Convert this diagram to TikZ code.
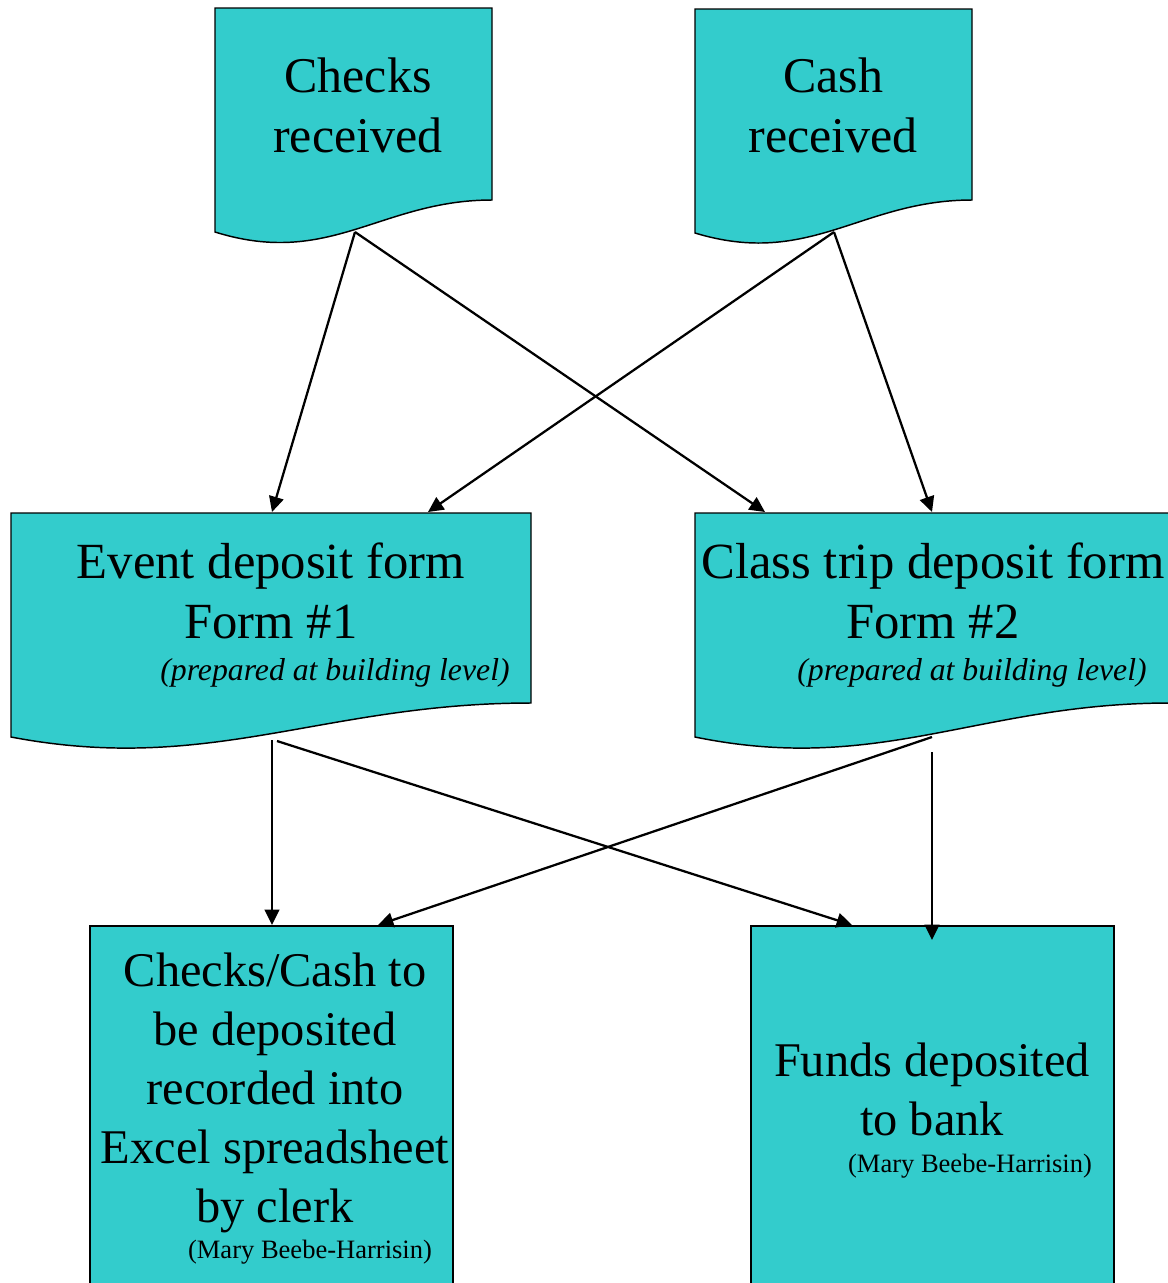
\documentclass[tikz,border=0pt]{standalone}
\usepackage{fontspec}
\setmainfont{Liberation Serif}
\usetikzlibrary{arrows.meta}
\definecolor{docfill}{HTML}{33CCCC}

\begin{document}
\begin{tikzpicture}
	[x=0.75pt,y=-0.75pt,>={Triangle[length=11.5pt,width=11pt]},
		docshape/.style={fill=docfill,draw=black,line width=1.1pt},
		flow/.style={->,line width=1.7pt},
		big/.style={font=\fontsize{36.3}{44.2}\selectfont,align=center,inner sep=0pt,anchor=base},
		bigger/.style={big,font=\fontsize{38}{44.5}\selectfont},
		note/.style={font=\fontsize{23.8}{27}\selectfont\itshape,inner sep=0pt,anchor=base},
		who/.style={font=\fontsize{19.9}{23}\selectfont,inner sep=0pt,anchor=base}]

	\useasboundingbox (0,0) rectangle (1168,1283);

	% documents
	\draw[docshape] (215,8) -- (492,8) -- (492,200) .. controls (381,200) and (330,268) .. (215,232) -- cycle;
	\draw[docshape] (695,9) -- (972,9) -- (972,200) .. controls (861,200) and (810,268) .. (695,233) -- cycle;
	\draw[docshape] (11,513) -- (531,513) -- (531,703) .. controls (323,703) and (210,775) .. (11,737) -- cycle;
	\draw[docshape] (695,513) -- (1170,513) -- (1170,703) .. controls (980,703) and (880,775) .. (695,737) -- cycle;
	% boxes
	\draw[docshape] (90,926) rectangle (453,1300);
	\draw[docshape] (751,926) rectangle (1114,1300);

	\node[bigger,font=\fontsize{37.5}{44.5}\selectfont] (checks) at (358,152) {Checks\\received};
	\node[bigger,font=\fontsize{37.5}{44.5}\selectfont] (cash) at (833,152) {Cash\\received};
	\node[bigger] (event) at (271,638) {Event deposit form\\Form \#1};
	\node[note] (event-note) at (335,680) {(prepared at building level)};
	\node[bigger] (classtrip) at (933,638) {Class trip deposit form\\Form \#2};
	\node[note] (classtrip-note) at (972,680) {(prepared at building level)};
	\node[big] (record) at (275,1222) {Checks/Cash to\\be deposited\\recorded into\\Excel spreadsheet\\by clerk};
	\node[who] (record-who) at (310,1258) {(Mary Beebe-Harrisin)};
	\node[big] (bank) at (932,1135) {Funds deposited\\to bank};
	\node[who] (bank-who) at (970,1172) {(Mary Beebe-Harrisin)};

	% connector ends
	\coordinate (checks-out) at (355,232);
	\coordinate (cash-out) at (834,232);
	\coordinate (event-in) at (272,512);
	\coordinate (event-in2) at (428,512);
	\coordinate (classtrip-in) at (765,512);
	\coordinate (classtrip-in2) at (932,512);
	\coordinate (event-out) at (272,740);
	\coordinate (event-out2) at (277,741);
	\coordinate (classtrip-out) at (932,737);
	\coordinate (classtrip-out2) at (932,752);
	\coordinate (record-in) at (272,925);
	\coordinate (record-in2) at (378,925);
	\coordinate (bank-in) at (852,925);
	\coordinate (bank-in2) at (932,940);

	\draw[flow] (checks-out) -- (event-in);
	\draw[flow] (checks-out) -- (classtrip-in);
	\draw[flow] (cash-out) -- (event-in2);
	\draw[flow] (cash-out) -- (classtrip-in2);
	\draw[flow] (event-out) -- (record-in);
	\draw[flow] (event-out2) -- (bank-in);
	\draw[flow] (classtrip-out) -- (record-in2);
	\draw[flow] (classtrip-out2) -- (bank-in2);

\end{tikzpicture}
\end{document}
